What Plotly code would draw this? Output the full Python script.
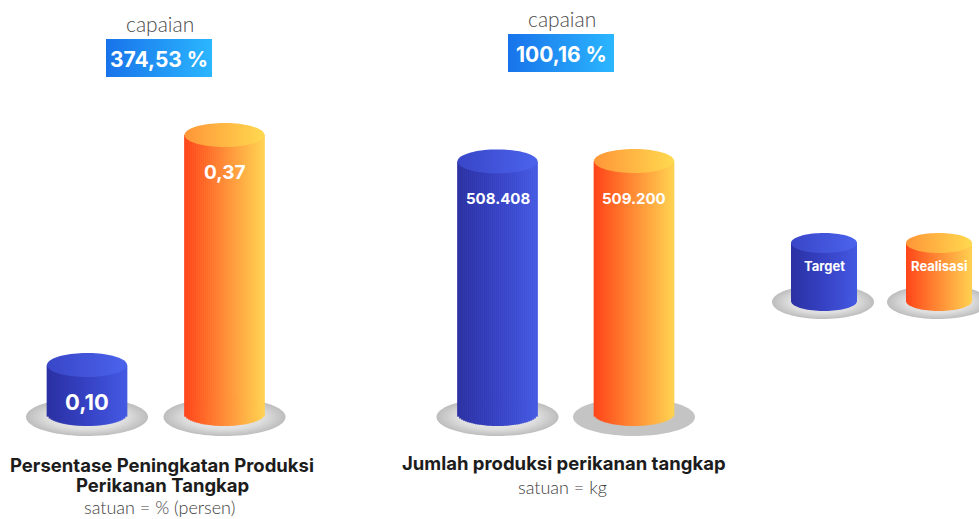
import numpy as np
import plotly.graph_objects as go

# ---------------- data ----------------
categories = ["Persentase Peningkatan Produksi<br>Perikanan Tangkap",
              "Jumlah produksi perikanan tangkap"]
units = ["satuan = % (persen)", "satuan = kg"]
series_names = ["Target", "Realisasi"]
target = [0.10, 508408]
realisasi = [0.37, 509200]
target_text = ["0,10", "508.408"]
realisasi_text = ["0,37", "509.200"]
capaian_text = ["374,53 %", "100,16 %"]

# ---------------- layout / style ----------------
W, H = 979, 519
# value ranges of the two chart axes (bottom of figure -> top of figure)
Y_RANGES = [[-0.08078, 0.52848], [-211328, 833232]]
CX = [[87, 224.5], [497.5, 634]]       # cylinder centres (px)
RX, RY = 40, 12
BOTTOM_PX = 414
PLATE = dict(rx=61, ry=19, cy=417)
N_SLICES = 40

BODY = [["#2b31a3", "#3642c4", "#4459e2"], ["#ff4519", "#ff8c36", "#ffd150"]]
TOP = [["#3946c8", "#4b63ec"], ["#ff9638", "#ffd94f"]]
PLATE_RADIAL = [[0, "#f2f2f2"], [0.65, "#dedede"], [1, "#bdbdbd"]]
PLATE_FLAT = [[0, "#c4c4c4"], [1, "#c4c4c4"]]
BADGE = [[0, "#1873ea"], [1, "#2bb6ff"]]
FONT_B = "Inter, 'Open Sans', sans-serif"
FONT_L = "Lato, 'Open Sans', sans-serif"


def hex2rgb(h):
    h = h.lstrip("#")
    return np.array([int(h[i:i + 2], 16) for i in (0, 2, 4)], float)


def grad(stops, t):
    n = len(stops) - 1
    i = min(int(t * n), n - 1)
    f = t * n - i
    c = hex2rgb(stops[i]) * (1 - f) + hex2rgb(stops[i + 1]) * f
    return "rgb(%d,%d,%d)" % tuple(np.round(c))


def val_from_px(rng, px):
    return rng[1] - (rng[1] - rng[0]) * px / H


def per_px(rng):
    return (rng[1] - rng[0]) / H


fig = go.Figure()
skip = dict(hoverinfo="skip", showlegend=False)


def ellipse(cx, cy, rx, ry, n=80):
    t = np.linspace(0, 2 * np.pi, n)
    return cx + rx * np.cos(t), cy + ry * np.sin(t)


# plates (pixel axis 'y', drawn first -> below)
plate_flat = [[False, False], [False, True]]
for g in range(2):
    for s in range(2):
        px_, py_ = ellipse(CX[g][s], PLATE["cy"], PLATE["rx"], PLATE["ry"])
        fig.add_trace(go.Scatter(x=px_, y=py_, mode="none", fill="toself",
                                 fillgradient=dict(type="radial",
                                                   colorscale=PLATE_FLAT if plate_flat[g][s] else PLATE_RADIAL),
                                 xaxis="x", yaxis="y", **skip))

# legend cylinders (pixel axis)
LEG_CX = [824, 939]
LEG_RX, LEG_RY, LEG_TOP, LEG_BOT = 33, 10, 243, 301
for s in range(2):
    px_, py_ = ellipse(LEG_CX[s] - 1, 302, 51, 17)
    fig.add_trace(go.Scatter(x=px_, y=py_, mode="none", fill="toself",
                             fillgradient=dict(type="radial", colorscale=PLATE_RADIAL),
                             xaxis="x", yaxis="y", **skip))
    t = np.linspace(0, np.pi, 40)
    bx = np.concatenate([[LEG_CX[s] - LEG_RX, LEG_CX[s] + LEG_RX], LEG_CX[s] + LEG_RX * np.cos(t)])
    by = np.concatenate([[LEG_TOP, LEG_TOP], LEG_BOT + LEG_RY * np.sin(t)])
    fig.add_trace(go.Scatter(x=bx, y=by, mode="none", fill="toself",
                             fillgradient=dict(type="horizontal",
                                               colorscale=[[i / 2, c] for i, c in enumerate(BODY[s])]),
                             xaxis="x", yaxis="y", **skip))
    tx, ty = ellipse(LEG_CX[s], LEG_TOP, LEG_RX, LEG_RY)
    fig.add_trace(go.Scatter(x=tx, y=ty, mode="none", fill="toself",
                             fillgradient=dict(type="horizontal",
                                               colorscale=[[0, TOP[s][0]], [1, TOP[s][1]]]),
                             xaxis="x", yaxis="y", **skip))

# badges (pixel axis)
BADGE_BOX = [[106, 212, 39, 77], [508, 614, 34, 72]]
for g in range(2):
    x0, x1, y0, y1 = BADGE_BOX[g]
    fig.add_trace(go.Scatter(x=[x0, x1, x1, x0, x0], y=[y0, y0, y1, y1, y0], mode="none",
                             fill="toself", fillgradient=dict(type="horizontal", colorscale=BADGE),
                             xaxis="x", yaxis="y", **skip))

# data cylinders
axes = ["y2", "y3"]
values = [target, realisasi]
for g in range(2):
    rng = Y_RANGES[g]
    k = per_px(rng)
    for s in range(2):
        v = values[s][g]
        cx = CX[g][s]
        dx = 2 * RX / N_SLICES
        xs = cx - RX + dx * (np.arange(N_SLICES) + 0.5)
        u = (xs - cx) / RX
        base = np.array([val_from_px(rng, BOTTOM_PX + RY * np.sqrt(max(0, 1 - uu ** 2))) for uu in u])
        cols = [grad(BODY[s], i / (N_SLICES - 1)) for i in range(N_SLICES)]
        fig.add_trace(go.Bar(x=xs, y=v - base, base=base, width=dx + 0.7,
                             marker=dict(color=cols, line=dict(width=0)),
                             name=series_names[s], xaxis="x", yaxis=axes[g], **skip))
        tx, ty = ellipse(cx, 0, RX, RY)
        fig.add_trace(go.Scatter(x=tx, y=v + ty * k, mode="none", fill="toself",
                                 fillgradient=dict(type="horizontal",
                                                   colorscale=[[0, TOP[s][0]], [1, TOP[s][1]]]),
                                 xaxis="x", yaxis=axes[g], **skip))

# ---------------- annotations ----------------
ann = []
labels = [target_text, realisasi_text]
lab_size = [[22, 19], [15, 15]]
for g in range(2):
    for s in range(2):
        ann.append(dict(x=CX[g][s], y=values[s][g], xref="x", yref=axes[g], yshift=-37,
                        text=labels[s][g], showarrow=False,
                        font=dict(family=FONT_B, size=lab_size[g][s], color="white", weight=700)))

CAP_POS = [(160, 23), (562, 18)]
for g in range(2):
    ann.append(dict(x=CAP_POS[g][0], y=CAP_POS[g][1], xref="x", yref="y", text="capaian",
                    showarrow=False, font=dict(family=FONT_L, size=21, color="#4a4a4a", weight=300)))
    x0, x1, y0, y1 = BADGE_BOX[g]
    ann.append(dict(x=(x0 + x1) / 2, y=(y0 + y1) / 2 + 1, xref="x", yref="y", text=capaian_text[g],
                    showarrow=False, font=dict(family=FONT_B, size=21, color="white", weight=700)))

CAT_X = [162, 564]
CAT_Y0 = [465, 463]
LINE_STEP = 20
UNIT_POS = [(159, 506.5), (562, 487)]
for g in range(2):
    for j, line in enumerate(categories[g].split("<br>")):
        ann.append(dict(x=CAT_X[g], y=CAT_Y0[g] + j * LINE_STEP, xref="x", yref="y", text=line,
                        showarrow=False, borderpad=0,
                        font=dict(family=FONT_B, size=18.5, color="#1c1c1c", weight=700)))
    ann.append(dict(x=UNIT_POS[g][0], y=UNIT_POS[g][1], xref="x", yref="y", text=units[g],
                    showarrow=False, borderpad=0,
                    font=dict(family=FONT_L, size=18, color="#3c3c3c", weight=300)))

for s in range(2):
    ann.append(dict(x=LEG_CX[s], y=266, xref="x", yref="y", text=series_names[s], showarrow=False,
                    font=dict(family=FONT_B, size=13, color="white", weight=700)))

hidden = dict(visible=False, fixedrange=True, showgrid=False, zeroline=False)
fig.update_layout(
    width=W, height=H, margin=dict(l=0, r=0, t=0, b=0),
    paper_bgcolor="white", plot_bgcolor="white",
    barmode="overlay", showlegend=False,
    xaxis=dict(range=[0, W], domain=[0, 1], **hidden),
    yaxis=dict(range=[H, 0], domain=[0, 1], **hidden),
    yaxis2=dict(range=Y_RANGES[0], overlaying="y", **hidden),
    yaxis3=dict(range=Y_RANGES[1], overlaying="y", **hidden),
    annotations=ann,
)

fig.write_html("out.html", config={"displayModeBar": False},
               post_script="document.body.style.margin='0';document.body.style.overflow='hidden';")
